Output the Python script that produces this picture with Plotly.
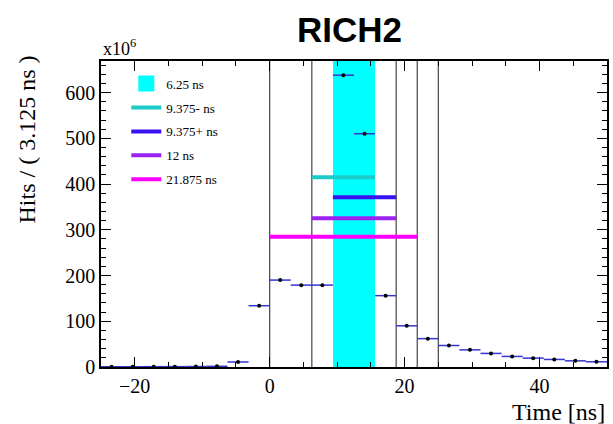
import plotly.graph_objects as go

# ---------------- data ----------------
bin_width = 3.125
bin_centers = [-23.4375 + i * 3.125 for i in range(24)]
hits_1e6 = [0.5, 0.6, 0.7, 0.8, 1.0, 1.5, 11, 134, 190, 179, 179, 638, 510,
            156, 90, 62, 47, 37.5, 29.7, 23.1, 19.4, 16.5, 13.5, 11.4]

band_name = "6.25 ns"
band_start = 9.375
band_end = 15.625

window_names = ["9.375- ns", "9.375+ ns", "12 ns", "21.875 ns"]
window_start = [6.25, 9.375, 6.25, 0.0]
window_end = [15.625, 18.75, 18.75, 21.875]
window_level = [415, 371, 325, 285]
window_colors = ["#1ccaca", "#3a12f2", "#9b22f0", "#ff00ff"]

vline_x = [0.0, 6.25, 18.75, 21.875, 25.0]

x_range = [-25, 50]
y_range = [0, 669]

SERIF = "Liberation Serif"

fig = go.Figure()

# cyan band (6.25 ns window)
fig.add_trace(go.Bar(
    x=[(band_start + band_end) / 2], y=[y_range[1]],
    width=[band_end - band_start],
    marker=dict(color="#00ffff", line=dict(width=0)),
    showlegend=False, hoverinfo="skip"))
# legend entry for band
fig.add_trace(go.Scatter(
    x=[None], y=[None], mode="markers", name=band_name,
    marker=dict(symbol="square", size=16, color="#00ffff"),
    legendgroup="a"))

for i, (n, s, e, lv, c) in enumerate(zip(window_names, window_start, window_end,
                                         window_level, window_colors)):
    fig.add_trace(go.Scatter(
        x=[s, e], y=[lv, lv], mode="lines", name=n,
        line=dict(color=c, width=4), legendgroup="w%d" % i))

# data points
fig.add_trace(go.Scatter(
    x=bin_centers, y=hits_1e6, mode="markers", showlegend=False,
    marker=dict(color="black", size=4, symbol="circle"),
    error_x=dict(type="constant", value=bin_width / 2, color="#3535d5",
                 thickness=1.5, width=0)))

shapes = []
for xv in vline_x:
    shapes.append(dict(type="line", xref="x", yref="paper", x0=xv, x1=xv,
                       y0=0, y1=1, line=dict(color="#444444", width=1.2),
                       layer="below"))

axis_common = dict(
    showgrid=False, zeroline=False, showline=True, linecolor="black",
    linewidth=1.5, mirror="ticks", ticks="inside", tickcolor="black",
    tickwidth=1.2, ticklen=10,
    tickfont=dict(family=SERIF, size=20, color="black"),
)

fig.update_layout(
    width=613, height=424,
    margin=dict(l=101, r=4, t=61, b=57),
    plot_bgcolor="white", paper_bgcolor="white",
    bargap=0,
    shapes=shapes,
    title=dict(text="<b>RICH2</b>", x=0.57, xanchor="center", y=0.93,
               yanchor="middle",
               font=dict(family="Liberation Sans", size=35, color="black")),
    xaxis=dict(range=x_range, dtick=20, tick0=0,
               minor=dict(ticks="inside", dtick=5, ticklen=5,
                          tickcolor="black"),
               **axis_common),
    yaxis=dict(range=y_range, dtick=100, tick0=0,
               minor=dict(ticks="inside", dtick=20, ticklen=5,
                          tickcolor="black"),
               **axis_common),
    legend=dict(x=0.05, y=0.975, xanchor="left", yanchor="top",
                bgcolor="rgba(0,0,0,0)", traceorder="grouped",
                tracegroupgap=4, itemwidth=30,
                font=dict(family=SERIF, size=13, color="black")),
    annotations=[
        dict(text="x10<sup>6</sup>", xref="paper", yref="paper", x=0,
             y=1, xanchor="left", yanchor="bottom", showarrow=False,
             font=dict(family=SERIF, size=18, color="black")),
        dict(text="Hits / ( 3.125 ns )", xref="paper", yref="paper",
             x=-0.146, y=1.025, xanchor="center", yanchor="top",
             textangle=-90, showarrow=False,
             font=dict(family=SERIF, size=24, color="black")),
        dict(text="Time [ns]", xref="paper", yref="paper", x=1.0,
             y=-0.097, xanchor="right", yanchor="top", showarrow=False,
             font=dict(family=SERIF, size=24, color="black")),
    ],
)

fig.write_html("out.html")
